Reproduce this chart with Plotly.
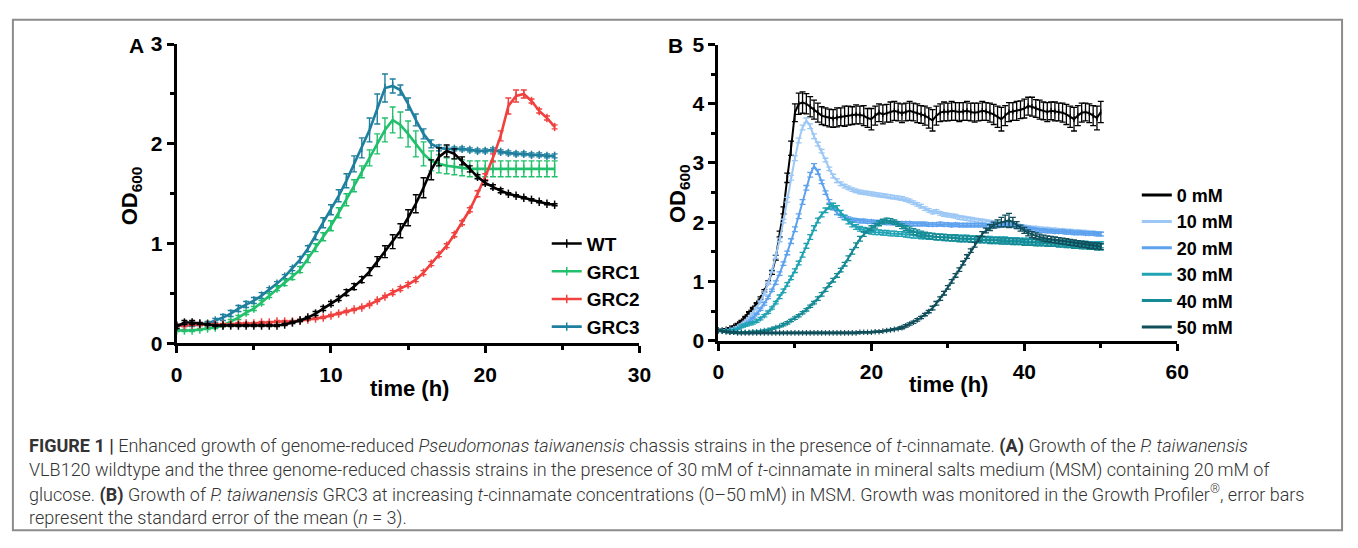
import plotly.graph_objects as go

W, H = 1358, 548

# ---------------- Panel A data ----------------
time_a = [0, 0.5, 1, 1.5, 2, 2.5, 3, 3.5, 4, 4.5,
          5, 5.5, 6, 6.5, 7, 7.5, 8, 8.5, 9, 9.5,
          10, 10.5, 11, 11.5, 12, 12.5, 13, 13.5, 14, 14.5,
          15, 15.5, 16, 16.5, 17, 17.5, 18, 18.5, 19, 19.5,
          20, 20.5, 21, 21.5, 22, 22.5, 23, 23.5, 24, 24.5]

wt = [0.17, 0.21, 0.21, 0.20, 0.19, 0.18, 0.18, 0.18, 0.18, 0.18,
      0.18, 0.18, 0.18, 0.18, 0.19, 0.21, 0.23, 0.26, 0.30, 0.35,
      0.40, 0.45, 0.51, 0.57, 0.64, 0.72, 0.82, 0.92, 1.02, 1.13,
      1.26, 1.40, 1.56, 1.74, 1.87, 1.93, 1.90, 1.83, 1.75, 1.67,
      1.61, 1.57, 1.53, 1.50, 1.48, 1.46, 1.44, 1.42, 1.40, 1.39]
wt_err = [0.02, 0.02, 0.02, 0.01, 0.01, 0.01, 0.01, 0.01, 0.01, 0.01,
          0.01, 0.01, 0.01, 0.01, 0.01, 0.01, 0.01, 0.01, 0.02, 0.02,
          0.02, 0.02, 0.03, 0.03, 0.03, 0.04, 0.05, 0.06, 0.07, 0.07,
          0.08, 0.09, 0.10, 0.10, 0.09, 0.06, 0.05, 0.04, 0.03, 0.02,
          0.02, 0.02, 0.02, 0.01, 0.01, 0.01, 0.01, 0.01, 0.01, 0.01]

grc1 = [0.13, 0.13, 0.13, 0.14, 0.15, 0.16, 0.18, 0.22, 0.26, 0.31,
        0.35, 0.41, 0.48, 0.55, 0.61, 0.67, 0.74, 0.85, 0.96, 1.07,
        1.18, 1.31, 1.44, 1.58, 1.72, 1.86, 2.00, 2.14, 2.24, 2.19,
        2.10, 2.00, 1.90, 1.83, 1.80, 1.78, 1.77, 1.76, 1.75, 1.75,
        1.75, 1.75, 1.75, 1.75, 1.75, 1.75, 1.75, 1.75, 1.75, 1.75]
grc1_err = [0.01, 0.01, 0.01, 0.01, 0.01, 0.01, 0.01, 0.02, 0.02, 0.02,
            0.02, 0.02, 0.02, 0.02, 0.03, 0.03, 0.03, 0.04, 0.04, 0.04,
            0.05, 0.05, 0.06, 0.06, 0.06, 0.08, 0.10, 0.12, 0.13, 0.13,
            0.13, 0.13, 0.12, 0.10, 0.09, 0.08, 0.08, 0.08, 0.08, 0.08,
            0.08, 0.08, 0.08, 0.08, 0.08, 0.08, 0.08, 0.08, 0.08, 0.08]

grc2 = [0.18, 0.18, 0.19, 0.19, 0.19, 0.19, 0.19, 0.19, 0.20, 0.20,
        0.20, 0.21, 0.21, 0.22, 0.22, 0.22, 0.23, 0.24, 0.25, 0.26,
        0.28, 0.30, 0.32, 0.34, 0.36, 0.39, 0.43, 0.47, 0.51, 0.55,
        0.59, 0.64, 0.71, 0.80, 0.89, 0.98, 1.09, 1.21, 1.34, 1.50,
        1.67, 1.86, 2.08, 2.38, 2.48, 2.50, 2.43, 2.33, 2.26, 2.17]
grc2_err = [0.01, 0.01, 0.01, 0.01, 0.01, 0.01, 0.01, 0.01, 0.01, 0.01,
            0.01, 0.01, 0.01, 0.01, 0.01, 0.01, 0.01, 0.01, 0.01, 0.01,
            0.01, 0.01, 0.01, 0.01, 0.01, 0.01, 0.01, 0.01, 0.02, 0.02,
            0.02, 0.02, 0.02, 0.02, 0.02, 0.02, 0.02, 0.02, 0.02, 0.03,
            0.03, 0.04, 0.05, 0.08, 0.06, 0.04, 0.02, 0.02, 0.02, 0.02]

grc3 = [0.18, 0.18, 0.18, 0.19, 0.20, 0.23, 0.26, 0.30, 0.35, 0.39,
        0.43, 0.48, 0.54, 0.60, 0.67, 0.75, 0.84, 0.95, 1.08, 1.21,
        1.34, 1.48, 1.63, 1.80, 1.96, 2.14, 2.35, 2.56, 2.58, 2.54,
        2.40, 2.24, 2.10, 2.00, 1.96, 1.95, 1.95, 1.95, 1.94, 1.93,
        1.93, 1.94, 1.92, 1.91, 1.90, 1.90, 1.89, 1.89, 1.88, 1.88]
grc3_err = [0.01, 0.01, 0.01, 0.01, 0.02, 0.02, 0.03, 0.03, 0.03, 0.03,
            0.03, 0.03, 0.02, 0.02, 0.02, 0.02, 0.03, 0.03, 0.04, 0.05,
            0.05, 0.06, 0.07, 0.08, 0.10, 0.12, 0.15, 0.14, 0.07, 0.05,
            0.06, 0.06, 0.05, 0.04, 0.03, 0.03, 0.02, 0.02, 0.02, 0.02,
            0.02, 0.02, 0.02, 0.02, 0.02, 0.02, 0.02, 0.02, 0.02, 0.02]

names_a = ["WT", "GRC1", "GRC2", "GRC3"]
colors_a = ["#000000", "#22c06c", "#f0413f", "#1f7f9e"]

# ---------------- Panel B data ----------------
time_b = [0, 0.5, 1, 1.5, 2, 2.5, 3, 3.5, 4, 4.5,
          5, 5.5, 6, 6.5, 7, 7.5, 8, 8.5, 9, 9.5,
          10, 10.5, 11, 11.5, 12, 12.5, 13, 13.5, 14, 14.5,
          15, 15.5, 16, 16.5, 17, 17.5, 18, 18.5, 19, 19.5,
          20, 20.5, 21, 21.5, 22, 22.5, 23, 23.5, 24, 24.5,
          25, 25.5, 26, 26.5, 27, 27.5, 28, 28.5, 29, 29.5,
          30, 30.5, 31, 31.5, 32, 32.5, 33, 33.5, 34, 34.5,
          35, 35.5, 36, 36.5, 37, 37.5, 38, 38.5, 39, 39.5,
          40, 40.5, 41, 41.5, 42, 42.5, 43, 43.5, 44, 44.5,
          45, 45.5, 46, 46.5, 47, 47.5, 48, 48.5, 49, 49.5,
          50]

b0 = [0.18, 0.18, 0.19, 0.21, 0.24, 0.28, 0.33, 0.40, 0.48, 0.55,
      0.63, 0.72, 0.84, 0.98, 1.15, 1.40, 1.80, 2.20, 2.75, 3.25,
      3.85, 4.00, 4.02, 4.00, 3.95, 3.90, 3.85, 3.80, 3.78, 3.76,
      3.75, 3.77, 3.78, 3.79, 3.80, 3.80, 3.82, 3.81, 3.80, 3.76,
      3.74, 3.80, 3.85, 3.82, 3.84, 3.86, 3.88, 3.86, 3.84, 3.86,
      3.88, 3.86, 3.84, 3.82, 3.80, 3.76, 3.72, 3.80, 3.85, 3.87,
      3.86, 3.88, 3.87, 3.86, 3.87, 3.88, 3.86, 3.85, 3.86, 3.88,
      3.87, 3.85, 3.82, 3.78, 3.74, 3.80, 3.86, 3.87, 3.88, 3.90,
      3.92, 3.96, 3.95, 3.92, 3.90, 3.88, 3.86, 3.88, 3.87, 3.86,
      3.85, 3.82, 3.78, 3.74, 3.80, 3.85, 3.86, 3.84, 3.80, 3.76,
      3.86]
b0_err = [0.01, 0.01, 0.01, 0.01, 0.01, 0.01, 0.01, 0.01, 0.01, 0.01,
          0.01, 0.02, 0.02, 0.03, 0.03, 0.04, 0.05, 0.06, 0.08, 0.12,
          0.15, 0.18, 0.18, 0.17, 0.17, 0.16, 0.16, 0.15, 0.15, 0.15,
          0.15, 0.16, 0.15, 0.17, 0.16, 0.15, 0.16, 0.15, 0.17, 0.16,
          0.18, 0.16, 0.15, 0.16, 0.15, 0.17, 0.16, 0.15, 0.16, 0.15,
          0.16, 0.15, 0.16, 0.15, 0.16, 0.17, 0.18, 0.16, 0.15, 0.16,
          0.15, 0.16, 0.15, 0.16, 0.15, 0.16, 0.15, 0.16, 0.15, 0.16,
          0.15, 0.16, 0.17, 0.18, 0.20, 0.17, 0.16, 0.15, 0.16, 0.15,
          0.16, 0.15, 0.16, 0.15, 0.16, 0.15, 0.16, 0.15, 0.16, 0.15,
          0.16, 0.17, 0.18, 0.20, 0.17, 0.16, 0.15, 0.16, 0.17, 0.20,
          0.18]

b10 = [0.17, 0.17, 0.17, 0.18, 0.20, 0.23, 0.27, 0.32, 0.38, 0.46,
       0.55, 0.66, 0.80, 0.97, 1.18, 1.42, 1.70, 2.02, 2.38, 2.75,
       3.08, 3.38, 3.60, 3.72, 3.62, 3.45, 3.32, 3.20, 3.05, 2.90,
       2.78, 2.70, 2.65, 2.61, 2.58, 2.55, 2.53, 2.51, 2.50, 2.49,
       2.48, 2.47, 2.46, 2.45, 2.44, 2.43, 2.42, 2.41, 2.40, 2.38,
       2.36, 2.33, 2.30, 2.27, 2.23, 2.20, 2.17, 2.18, 2.15, 2.13,
       2.12, 2.11, 2.10, 2.08, 2.07, 2.06, 2.05, 2.04, 2.03, 2.02,
       2.01, 2.00, 1.99, 1.98, 1.97, 1.97, 1.96, 1.95, 1.94, 1.93,
       1.92, 1.91, 1.90, 1.90, 1.89, 1.88, 1.88, 1.87, 1.87, 1.86,
       1.86, 1.85, 1.85, 1.84, 1.84, 1.83, 1.83, 1.82, 1.82, 1.81,
       1.80]
b10_err = [0.01, 0.01, 0.01, 0.01, 0.01, 0.01, 0.01, 0.01, 0.01, 0.01,
           0.01, 0.01, 0.02, 0.02, 0.02, 0.03, 0.03, 0.03, 0.04, 0.04,
           0.04, 0.04, 0.04, 0.04, 0.04, 0.04, 0.03, 0.03, 0.03, 0.03,
           0.03, 0.03, 0.03, 0.03, 0.03, 0.03, 0.03, 0.03, 0.03, 0.03,
           0.03, 0.03, 0.03, 0.03, 0.03, 0.03, 0.03, 0.03, 0.03, 0.03,
           0.03, 0.03, 0.03, 0.03, 0.03, 0.03, 0.03, 0.03, 0.03, 0.03,
           0.03, 0.03, 0.03, 0.03, 0.03, 0.03, 0.03, 0.03, 0.03, 0.03,
           0.03, 0.03, 0.03, 0.03, 0.03, 0.03, 0.03, 0.03, 0.03, 0.03,
           0.03, 0.03, 0.03, 0.03, 0.03, 0.03, 0.03, 0.03, 0.03, 0.03,
           0.03, 0.03, 0.03, 0.03, 0.03, 0.03, 0.03, 0.03, 0.03, 0.03,
           0.03]

b20 = [0.17, 0.17, 0.17, 0.17, 0.18, 0.20, 0.23, 0.27, 0.32, 0.38,
       0.45, 0.53, 0.62, 0.73, 0.85, 0.98, 1.13, 1.30, 1.48, 1.68,
       1.88, 2.10, 2.34, 2.58, 2.80, 2.95, 2.85, 2.68, 2.50, 2.35,
       2.24, 2.16, 2.11, 2.08, 2.06, 2.04, 2.03, 2.02, 2.02, 2.01,
       2.01, 2.00, 2.00, 2.00, 1.99, 1.99, 1.99, 1.98, 1.98, 1.98,
       1.98, 1.97, 1.97, 1.97, 1.97, 1.96, 1.96, 1.96, 1.97, 1.96,
       1.96, 1.95, 1.96, 1.95, 1.95, 1.95, 1.95, 1.95, 1.95, 1.95,
       1.94, 1.94, 1.94, 1.94, 1.95, 1.96, 1.96, 1.95, 1.93, 1.92,
       1.90, 1.89, 1.88, 1.87, 1.86, 1.86, 1.85, 1.85, 1.84, 1.84,
       1.84, 1.83, 1.83, 1.82, 1.82, 1.82, 1.81, 1.81, 1.81, 1.80,
       1.80]
b20_err = [0.01, 0.01, 0.01, 0.01, 0.01, 0.01, 0.01, 0.01, 0.01, 0.01,
           0.01, 0.02, 0.02, 0.02, 0.02, 0.03, 0.03, 0.03, 0.03, 0.04,
           0.04, 0.04, 0.04, 0.04, 0.04, 0.04, 0.04, 0.03, 0.03, 0.03,
           0.03, 0.03, 0.03, 0.03, 0.03, 0.03, 0.03, 0.03, 0.03, 0.03,
           0.03, 0.03, 0.03, 0.03, 0.03, 0.03, 0.03, 0.03, 0.03, 0.03,
           0.03, 0.03, 0.03, 0.03, 0.03, 0.03, 0.03, 0.03, 0.03, 0.03,
           0.03, 0.03, 0.03, 0.03, 0.03, 0.03, 0.03, 0.03, 0.03, 0.03,
           0.03, 0.03, 0.03, 0.03, 0.03, 0.03, 0.03, 0.03, 0.03, 0.03,
           0.03, 0.03, 0.03, 0.03, 0.03, 0.03, 0.03, 0.03, 0.03, 0.03,
           0.03, 0.03, 0.03, 0.03, 0.03, 0.03, 0.03, 0.03, 0.03, 0.03,
           0.03]

b30 = [0.17, 0.17, 0.17, 0.17, 0.18, 0.20, 0.24, 0.26, 0.28, 0.30,
       0.33, 0.37, 0.42, 0.48, 0.55, 0.64, 0.74, 0.84, 0.95, 1.06,
       1.18, 1.31, 1.45, 1.60, 1.75, 1.90, 2.03, 2.13, 2.20, 2.26,
       2.28, 2.24, 2.16, 2.08, 2.01, 1.96, 1.92, 1.89, 1.87, 1.85,
       1.84, 1.83, 1.83, 1.82, 1.82, 1.81, 1.81, 1.80, 1.80, 1.79,
       1.79, 1.78, 1.78, 1.77, 1.77, 1.76, 1.76, 1.75, 1.75, 1.75,
       1.74, 1.74, 1.74, 1.73, 1.73, 1.73, 1.72, 1.72, 1.72, 1.71,
       1.71, 1.71, 1.70, 1.70, 1.70, 1.70, 1.69, 1.69, 1.69, 1.68,
       1.68, 1.68, 1.67, 1.67, 1.67, 1.66, 1.66, 1.66, 1.65, 1.65,
       1.65, 1.64, 1.64, 1.64, 1.63, 1.63, 1.63, 1.62, 1.62, 1.62,
       1.62]
b30_err = [0.01, 0.01, 0.01, 0.01, 0.01, 0.01, 0.02, 0.02, 0.02, 0.02,
           0.02, 0.02, 0.02, 0.02, 0.02, 0.02, 0.03, 0.03, 0.03, 0.03,
           0.03, 0.03, 0.04, 0.04, 0.04, 0.04, 0.04, 0.04, 0.04, 0.04,
           0.04, 0.04, 0.04, 0.04, 0.04, 0.04, 0.04, 0.04, 0.04, 0.04,
           0.04, 0.04, 0.04, 0.04, 0.04, 0.04, 0.04, 0.04, 0.04, 0.04,
           0.05, 0.05, 0.05, 0.05, 0.05, 0.05, 0.05, 0.05, 0.05, 0.05,
           0.05, 0.05, 0.05, 0.05, 0.05, 0.05, 0.05, 0.05, 0.05, 0.05,
           0.05, 0.05, 0.05, 0.05, 0.05, 0.05, 0.05, 0.05, 0.05, 0.05,
           0.05, 0.05, 0.05, 0.05, 0.05, 0.05, 0.05, 0.05, 0.05, 0.05,
           0.05, 0.05, 0.05, 0.05, 0.05, 0.05, 0.05, 0.05, 0.05, 0.05,
           0.05]

b40 = [0.17, 0.16, 0.15, 0.14, 0.14, 0.14, 0.14, 0.14, 0.14, 0.15,
       0.15, 0.16, 0.17, 0.18, 0.20, 0.22, 0.24, 0.27, 0.30, 0.34,
       0.38, 0.42, 0.47, 0.52, 0.58, 0.64, 0.71, 0.78, 0.86, 0.94,
       1.02, 1.10, 1.19, 1.29, 1.39, 1.50, 1.61, 1.72, 1.80, 1.86,
       1.90, 1.94, 1.98, 2.01, 2.03, 2.02, 2.00, 1.97, 1.93, 1.90,
       1.87, 1.84, 1.82, 1.80, 1.78, 1.77, 1.76, 1.75, 1.75, 1.74,
       1.74, 1.73, 1.73, 1.72, 1.72, 1.72, 1.71, 1.71, 1.70, 1.70,
       1.70, 1.69, 1.69, 1.69, 1.68, 1.68, 1.68, 1.67, 1.67, 1.67,
       1.66, 1.66, 1.66, 1.65, 1.65, 1.65, 1.64, 1.64, 1.64, 1.63,
       1.63, 1.62, 1.62, 1.61, 1.61, 1.60, 1.60, 1.59, 1.59, 1.58,
       1.58]
b40_err = [0.01, 0.01, 0.01, 0.01, 0.01, 0.01, 0.01, 0.01, 0.01, 0.01,
           0.01, 0.01, 0.01, 0.01, 0.01, 0.01, 0.01, 0.02, 0.02, 0.02,
           0.02, 0.02, 0.02, 0.02, 0.02, 0.02, 0.03, 0.03, 0.03, 0.03,
           0.03, 0.03, 0.03, 0.03, 0.04, 0.04, 0.04, 0.04, 0.04, 0.04,
           0.04, 0.04, 0.04, 0.04, 0.04, 0.04, 0.04, 0.04, 0.04, 0.04,
           0.05, 0.05, 0.05, 0.05, 0.05, 0.05, 0.05, 0.05, 0.05, 0.05,
           0.05, 0.05, 0.05, 0.05, 0.05, 0.05, 0.05, 0.05, 0.05, 0.05,
           0.05, 0.05, 0.05, 0.05, 0.05, 0.05, 0.05, 0.05, 0.05, 0.05,
           0.05, 0.05, 0.05, 0.05, 0.05, 0.05, 0.05, 0.05, 0.05, 0.05,
           0.05, 0.05, 0.05, 0.05, 0.05, 0.05, 0.05, 0.05, 0.05, 0.05,
           0.05]

b50 = [0.17, 0.16, 0.15, 0.14, 0.14, 0.13, 0.13, 0.13, 0.13, 0.13,
       0.13, 0.13, 0.13, 0.13, 0.13, 0.13, 0.13, 0.13, 0.13, 0.13,
       0.13, 0.13, 0.13, 0.13, 0.13, 0.13, 0.13, 0.13, 0.13, 0.13,
       0.13, 0.13, 0.13, 0.13, 0.13, 0.13, 0.13, 0.14, 0.14, 0.14,
       0.14, 0.15, 0.15, 0.16, 0.17, 0.18, 0.19, 0.20, 0.22, 0.25,
       0.28, 0.31, 0.35, 0.39, 0.44, 0.49, 0.55, 0.63, 0.71, 0.80,
       0.90, 1.00, 1.10, 1.20, 1.31, 1.42, 1.52, 1.62, 1.72, 1.80,
       1.86, 1.91, 1.95, 1.98, 2.00, 2.02, 2.03, 2.00, 1.95, 1.90,
       1.86, 1.82, 1.79, 1.77, 1.75, 1.73, 1.72, 1.71, 1.70, 1.69,
       1.68, 1.67, 1.66, 1.65, 1.64, 1.63, 1.62, 1.61, 1.60, 1.60,
       1.59]
b50_err = [0.01, 0.01, 0.01, 0.01, 0.01, 0.01, 0.01, 0.01, 0.01, 0.01,
           0.01, 0.01, 0.01, 0.01, 0.01, 0.01, 0.01, 0.01, 0.01, 0.01,
           0.01, 0.01, 0.01, 0.01, 0.01, 0.01, 0.01, 0.01, 0.01, 0.01,
           0.01, 0.01, 0.01, 0.01, 0.01, 0.01, 0.01, 0.01, 0.01, 0.01,
           0.01, 0.01, 0.01, 0.01, 0.01, 0.01, 0.01, 0.01, 0.02, 0.02,
           0.02, 0.02, 0.02, 0.02, 0.02, 0.02, 0.03, 0.03, 0.03, 0.03,
           0.03, 0.03, 0.03, 0.03, 0.03, 0.03, 0.03, 0.04, 0.04, 0.04,
           0.04, 0.05, 0.05, 0.06, 0.08, 0.10, 0.12, 0.08, 0.06, 0.05,
           0.05, 0.05, 0.05, 0.05, 0.05, 0.05, 0.05, 0.05, 0.05, 0.05,
           0.05, 0.05, 0.05, 0.05, 0.05, 0.05, 0.05, 0.05, 0.05, 0.05,
           0.05]

names_b = ["0 mM", "10 mM", "20 mM", "30 mM", "40 mM", "50 mM"]
colors_b = ["#000000", "#9dc8f5", "#5ea2ee", "#20a3b3", "#168b95", "#104f5b"]

# caption
caption_lines = [
    "<b>FIGURE 1 |</b> Enhanced growth of genome-reduced <i>Pseudomonas taiwanensis</i> chassis strains in the presence of <i>t</i>-cinnamate. <b>(A)</b> Growth of the <i>P. taiwanensis</i>",
    "VLB120 wildtype and the three genome-reduced chassis strains in the presence of 30\u2009mM of <i>t</i>-cinnamate in mineral salts medium (MSM) containing 20\u2009mM of",
    "glucose. <b>(B)</b> Growth of <i>P. taiwanensis</i> GRC3 at increasing <i>t</i>-cinnamate concentrations (0\u201350\u2009mM) in MSM. Growth was monitored in the Growth Profiler<sup>\u00ae</sup>, error bars",
    "represent the standard error of the mean (<i>n</i> = 3).",
]

# ---------------- figure ----------------
BOLD = "Liberation Sans, Arial, sans-serif"
fig = go.Figure()

series_a = [(wt, wt_err), (grc1, grc1_err), (grc2, grc2_err), (grc3, grc3_err)]
draw_order_a = [3, 1, 2, 0]
for i in draw_order_a:
    y, e = series_a[i]
    fig.add_trace(go.Scatter(
        x=time_a, y=y, name=names_a[i], mode="lines+markers",
        line=dict(color=colors_a[i], width=2.6),
        marker=dict(symbol="line-ns", size=6, line=dict(width=1.5, color=colors_a[i])),
        error_y=dict(type="data", array=e, color=colors_a[i], thickness=1.4, width=3),
        xaxis="x", yaxis="y", legend="legend", legendrank=i + 1,
        legendgroup="a%d" % i, cliponaxis=False,
    ))

series_b = [(b0, b0_err), (b10, b10_err), (b20, b20_err), (b30, b30_err), (b40, b40_err), (b50, b50_err)]
for i in [0, 1, 2, 3, 4, 5]:
    y, e = series_b[i]
    fig.add_trace(go.Scatter(
        x=time_b, y=y, name=names_b[i], mode="lines+markers",
        line=dict(color=colors_b[i], width=2),
        marker=dict(symbol="line-ns", size=4, line=dict(width=1.2, color=colors_b[i])),
        error_y=dict(type="data", array=e, color=colors_b[i], thickness=1.3, width=3),
        xaxis="x2", yaxis="y2", showlegend=False, legendgroup="b%d" % i,
        cliponaxis=False,
    ))
    # legend entry (line only, as in the reference key)
    fig.add_trace(go.Scatter(
        x=[None], y=[None], name=names_b[i], mode="lines",
        line=dict(color=colors_b[i], width=3),
        xaxis="x2", yaxis="y2", legend="legend2", legendrank=i + 1,
        legendgroup="b%d" % i, showlegend=True,
    ))

def px_x(p):
    return p / W

def px_y(p):
    return 1 - p / H

tickfont = dict(family=BOLD, size=21, color="#000", weight="bold")
axis_common = dict(
    showgrid=False, zeroline=False, showline=True, linecolor="#000", linewidth=3,
    ticks="outside", ticklen=7, tickwidth=2.5, tickcolor="#000", tickfont=tickfont,
    fixedrange=True,
)

fig.update_layout(
    width=W, height=H, margin=dict(l=0, r=0, t=0, b=0),
    paper_bgcolor="white", plot_bgcolor="white", showlegend=True,
    xaxis=dict(domain=[px_x(173), px_x(642)], range=[0, 30], tickvals=[0, 10, 20, 30],
               minor=dict(tickvals=[5, 15, 25], ticks="outside", ticklen=4, tickwidth=2.5, tickcolor="#000"),
               anchor="y", ticklabelstandoff=3, **axis_common),
    yaxis=dict(domain=[px_y(346), px_y(33.5)], range=[0, 3], tickvals=[0, 1, 2, 3],
               minor=dict(tickvals=[0.5, 1.5, 2.5], ticks="outside", ticklen=4, tickwidth=2.5, tickcolor="#000"),
               anchor="x", **axis_common),
    xaxis2=dict(domain=[px_x(722), px_x(1187)], range=[0, 60], tickvals=[0, 20, 40, 60],
                minor=dict(tickvals=[10, 30, 50], ticks="outside", ticklen=4, tickwidth=2.5, tickcolor="#000"),
                anchor="y2", ticklabelstandoff=3, **axis_common),
    yaxis2=dict(domain=[px_y(343), px_y(34)], range=[0, 5], tickvals=[0, 1, 2, 3, 4, 5],
                minor=dict(tickvals=[0.5, 1.5, 2.5, 3.5, 4.5], ticks="outside", ticklen=4, tickwidth=2.5, tickcolor="#000"),
                anchor="x2", **axis_common),
    legend=dict(x=px_x(548), y=px_y(222), xanchor="left", yanchor="top",
                bgcolor="rgba(0,0,0,0)", borderwidth=0, itemwidth=30, tracegroupgap=0,
                font=dict(family=BOLD, size=19, color="#000", weight="bold")),
    legend2=dict(x=px_x(1146), y=px_y(172), xanchor="left", yanchor="top",
                 bgcolor="rgba(0,0,0,0)", borderwidth=0, itemwidth=30, tracegroupgap=0,
                 font=dict(family=BOLD, size=18, color="#000", weight="bold")),
)

annots = []
def lab(text, x, y, size=22, angle=0):
    annots.append(dict(text=text, x=px_x(x), y=px_y(y), xref="paper", yref="paper",
                       xanchor="center", yanchor="middle", showarrow=False, textangle=angle,
                       font=dict(family=BOLD, size=size, color="#000", weight="bold")))

lab("A", 132, 35, 21)
lab("B", 678, 35, 21)
lab("time (h)", 409, 393, 22)
lab("time (h)", 955, 389, 22)
lab("OD<sub>600</sub>", 127, 192, 22, -90)
lab("OD<sub>600</sub>", 682, 189, 22, -90)

cap_y = [453, 478, 503, 528]
for t, yy in zip(caption_lines, cap_y):
    annots.append(dict(text=t, x=px_x(21), y=px_y(yy), xref="paper", yref="paper",
                       xanchor="left", yanchor="middle", showarrow=False, align="left",
                       font=dict(family="Roboto, Liberation Sans, sans-serif", size=18.0, color="#333333", weight=300)))

fig.update_layout(annotations=annots)

fig.add_shape(type="rect", xref="paper", yref="paper",
              x0=px_x(7), x1=px_x(1354), y0=px_y(541), y1=px_y(8),
              line=dict(color="#8c8c8c", width=2), fillcolor="rgba(0,0,0,0)", layer="below")

fig.write_html("out.html")
